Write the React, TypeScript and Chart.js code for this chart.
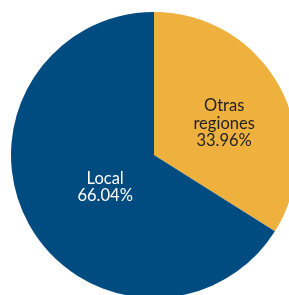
import React, { useEffect, useRef } from "react";
import { Chart, registerables } from "chart.js";

Chart.register(...registerables);

const categories = ["Otras regiones", "Local"];
const values = [33.96, 66.04];
const labelLines = [["Otras", "regiones", "33.96%"], ["Local", "66.04%"]];
const colors = ["#EEB13E", "#004C80"];
const textColors = ["#222222", "#FFFFFF"];
const labelRadius = [0.56, 0.39];
const labelShiftY = [7, 5];

const labelPlugin = {
  id: "sliceLabels",
  afterDatasetsDraw(chart: any) {
    const ctx = chart.ctx;
    const meta = chart.getDatasetMeta(0);
    meta.data.forEach((arc: any, i: number) => {
      const { x, y, startAngle, endAngle, outerRadius } = arc.getProps(
        ["x", "y", "startAngle", "endAngle", "outerRadius"],
        true
      );
      const mid = (startAngle + endAngle) / 2;
      const r = outerRadius * labelRadius[i];
      const cx = x + Math.cos(mid) * r;
      const cy = y + Math.sin(mid) * r + labelShiftY[i];
      const lines = labelLines[i];
      const lh = 17.5;
      ctx.save();
      ctx.font = "16.5px Lato, 'Noto Sans', sans-serif";
      ctx.fillStyle = textColors[i];
      ctx.textAlign = "center";
      ctx.textBaseline = "middle";
      lines.forEach((t, k) => {
        ctx.fillText(t, cx, cy + (k - (lines.length - 1) / 2) * lh);
      });
      ctx.restore();
    });
  },
};

export default function App() {
  const ref = useRef<HTMLCanvasElement>(null);
  useEffect(() => {
    document.body.style.margin = "0";
    document.body.style.overflow = "hidden";
    const chart = new Chart(ref.current!, {
      type: "pie",
      data: {
        labels: categories,
        datasets: [
          {
            data: values,
            backgroundColor: colors,
            borderWidth: 0,
          },
        ],
      },
      options: {
        animation: false,
        responsive: false,
        maintainAspectRatio: false,
        layout: { padding: 12 },
        plugins: {
          legend: { display: false },
          tooltip: { enabled: false },
        },
      },
      plugins: [labelPlugin],
    });
    return () => chart.destroy();
  }, []);
  return (
    <div style={{ position: "relative", width: 289, height: 295, overflow: "hidden", background: "#fff" }}>
      <canvas
        ref={ref}
        width={310}
        height={310}
        style={{ position: "absolute", left: -1, top: 0, width: 310, height: 310 }}
      />
    </div>
  );
}
